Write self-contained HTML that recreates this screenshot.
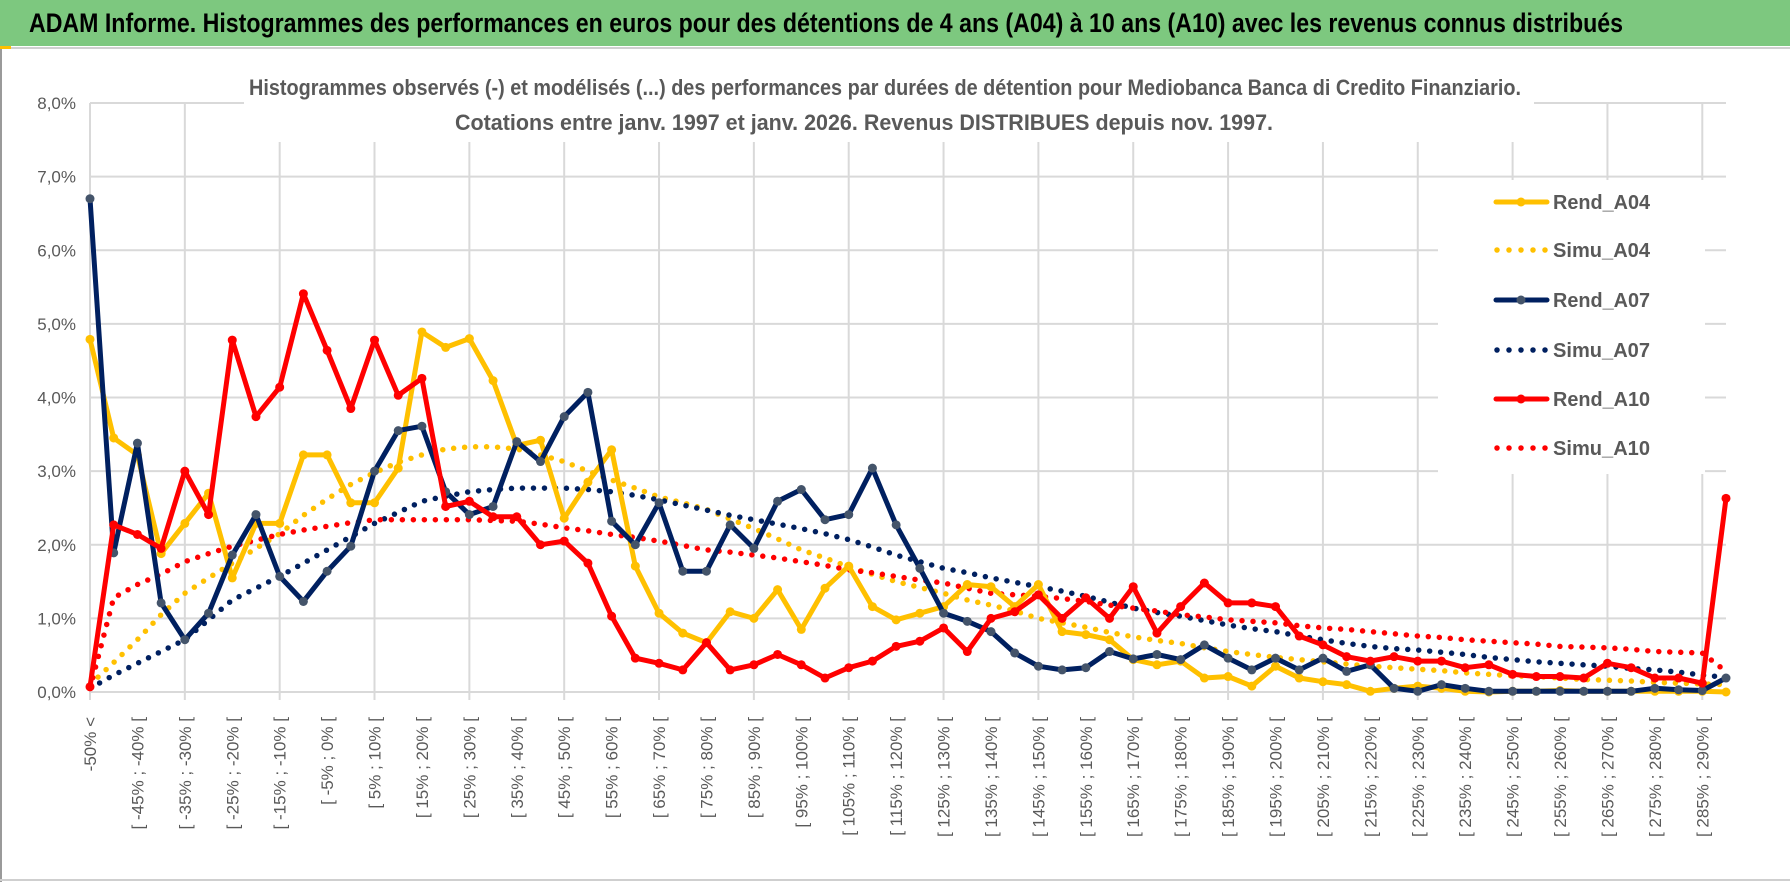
<!DOCTYPE html>
<html><head><meta charset="utf-8">
<style>
html,body{margin:0;padding:0;background:#fff;}
svg{display:block;}
text{font-family:"Liberation Sans",sans-serif;}
</style></head>
<body>
<svg id="chart" width="1790" height="888" viewBox="0 0 1790 888" xmlns="http://www.w3.org/2000/svg">
  <rect x="0" y="0" width="1790" height="888" fill="#fff"/>
  <rect x="0" y="0" width="1790" height="46" fill="#7dc87f"/>
  <text x="29" y="32" font-size="27" font-weight="bold" fill="#000" textLength="1594" lengthAdjust="spacingAndGlyphs">ADAM Informe. Histogrammes des performances en euros pour des détentions de 4 ans (A04) à 10 ans (A10) avec les revenus connus distribués</text>
  <rect x="0" y="47" width="1790" height="2" fill="#d0d0d0"/>
  <rect x="0" y="46" width="2" height="836" fill="#9a9a9a"/>
  <rect x="0" y="879" width="1790" height="2" fill="#cfcfcf"/>
  <rect x="0" y="46" width="11" height="3" fill="#ffc000"/>
  <g id="grid"></g>
  <g id="yaxis"></g>
  <g id="xaxis"></g>
  <rect x="244" y="60" width="1290" height="82" fill="#fff"/>
  <text x="249" y="95" font-size="22" font-weight="bold" fill="#595959" textLength="1272" lengthAdjust="spacingAndGlyphs">Histogrammes observés (-) et modélisés (...) des performances par durées de détention pour Mediobanca Banca di Credito Finanziario.</text>
  <text x="455" y="130" font-size="22" font-weight="bold" fill="#595959" textLength="818" lengthAdjust="spacingAndGlyphs">Cotations entre janv. 1997 et janv. 2026. Revenus DISTRIBUES depuis nov. 1997.</text>
  <g id="series"></g>
  <g id="legend"></g>
</svg>
<script>
const rendA04=[4.79,3.45,3.22,1.88,2.29,2.70,1.55,2.29,2.29,3.22,3.22,2.57,2.57,3.04,4.89,4.68,4.80,4.23,3.35,3.42,2.36,2.85,3.29,1.71,1.07,0.80,0.67,1.09,1.00,1.39,0.85,1.41,1.71,1.16,0.98,1.07,1.16,1.46,1.43,1.16,1.46,0.82,0.78,0.71,0.44,0.37,0.42,0.19,0.21,0.08,0.35,0.19,0.14,0.10,0.01,0.05,0.08,0.05,0.01,0.00,0.01,0.01,0.02,0.01,0.01,0.01,0.01,0.01,0.01,0.00];
const simuA04=[0.10,0.40,0.71,1.05,1.34,1.55,1.75,1.95,2.15,2.40,2.62,2.82,2.98,3.12,3.22,3.30,3.33,3.33,3.30,3.22,3.13,3.00,2.88,2.77,2.65,2.57,2.48,2.35,2.22,2.08,1.93,1.82,1.70,1.60,1.50,1.42,1.34,1.25,1.18,1.10,1.00,0.94,0.88,0.81,0.75,0.70,0.66,0.60,0.55,0.51,0.47,0.44,0.41,0.38,0.35,0.33,0.31,0.29,0.26,0.24,0.22,0.21,0.19,0.17,0.16,0.15,0.13,0.12,0.11,0.10];
const rendA07=[6.70,1.89,3.38,1.21,0.71,1.07,1.86,2.41,1.57,1.23,1.64,1.98,3.00,3.55,3.61,2.72,2.41,2.52,3.40,3.13,3.74,4.07,2.32,2.00,2.57,1.64,1.64,2.27,1.95,2.59,2.75,2.34,2.41,3.04,2.27,1.68,1.07,0.96,0.82,0.53,0.35,0.30,0.33,0.55,0.45,0.51,0.44,0.64,0.46,0.30,0.46,0.30,0.46,0.28,0.37,0.05,0.01,0.10,0.05,0.01,0.01,0.01,0.01,0.01,0.01,0.01,0.05,0.03,0.02,0.19];
const simuA07=[0.05,0.23,0.39,0.55,0.71,0.98,1.25,1.41,1.57,1.75,1.93,2.11,2.29,2.44,2.59,2.66,2.72,2.75,2.77,2.77,2.77,2.75,2.72,2.67,2.61,2.54,2.47,2.40,2.34,2.28,2.22,2.15,2.07,1.97,1.86,1.77,1.68,1.62,1.55,1.49,1.43,1.37,1.30,1.22,1.14,1.08,1.03,0.97,0.91,0.86,0.82,0.76,0.71,0.66,0.62,0.59,0.57,0.54,0.51,0.47,0.44,0.41,0.39,0.37,0.35,0.32,0.30,0.27,0.23,0.20];
const rendA10=[0.07,2.27,2.14,1.95,3.00,2.41,4.78,3.74,4.14,5.41,4.64,3.85,4.78,4.03,4.26,2.52,2.59,2.38,2.38,2.00,2.05,1.75,1.03,0.46,0.39,0.30,0.67,0.30,0.37,0.51,0.37,0.19,0.33,0.42,0.62,0.69,0.87,0.55,1.00,1.09,1.32,1.00,1.28,1.00,1.43,0.80,1.16,1.48,1.21,1.21,1.16,0.76,0.64,0.48,0.42,0.48,0.42,0.42,0.33,0.37,0.24,0.21,0.21,0.19,0.39,0.33,0.19,0.19,0.12,2.63];
const simuA10=[0.05,1.28,1.46,1.60,1.77,1.88,1.98,2.06,2.14,2.20,2.25,2.30,2.34,2.34,2.34,2.34,2.34,2.33,2.32,2.28,2.23,2.19,2.14,2.10,2.05,1.99,1.93,1.90,1.86,1.82,1.77,1.72,1.66,1.62,1.57,1.52,1.48,1.41,1.34,1.32,1.30,1.27,1.23,1.18,1.14,1.10,1.05,1.02,0.98,0.96,0.94,0.90,0.87,0.85,0.82,0.79,0.76,0.74,0.71,0.69,0.67,0.65,0.62,0.61,0.60,0.58,0.55,0.54,0.53,0.28];
const yTicks=[0,1,2,3,4,5,6,7,8];
const yTickLabels=["0,0%","1,0%","2,0%","3,0%","4,0%","5,0%","6,0%","7,0%","8,0%"];
const binStarts=[];
for(let s=-50;s<=285;s+=5) binStarts.push(s);
const categories=["-50% <"].concat(binStarts.map(s=>"[ "+s+"% ; "+(s+5)+"% ["),["> 290%"]);

const NS="http://www.w3.org/2000/svg";
const X0=90,X1=1726,Y0=692,Y8=103;
const n=categories.length;
function xs(i){return X0+(X1-X0)*i/(n-1);}
function ys(v){return Y0-(Y0-Y8)*v/8;}
function mk(tag,attrs,parent){const e=document.createElementNS(NS,tag);for(const k in attrs)e.setAttribute(k,attrs[k]);parent.appendChild(e);return e;}

const grid=document.getElementById('grid');
yTicks.forEach((t,k)=>{
  const l=mk('line',{x1:X0,x2:X1,y1:ys(t),y2:ys(t),stroke:'#d9d9d9','stroke-width':2},grid);
  
  
});
for(let i=0;i<n;i+=4){
  const l=mk('line',{x1:xs(i),x2:xs(i),y1:Y8,y2:Y0+8,stroke:'#d9d9d9','stroke-width':2},grid);
  
  
}
const yax=document.getElementById('yaxis');
yTicks.forEach((t,k)=>{
  const tx=mk('text',{x:76,y:ys(t)+6,'text-anchor':'end','font-size':17,fill:'#595959'},yax);
  tx.textContent=yTickLabels[k];
  
  
});
const xax=document.getElementById('xaxis');
for(let i=0;i<n-1;i+=2){
  const x=xs(i)+6,y=717;
  const tx=mk('text',{x:x,y:y,transform:`rotate(-90 ${x} ${y})`,'text-anchor':'end','font-size':17,fill:'#595959','font-family':'"DejaVu Sans",sans-serif'},xax);
  tx.textContent=categories[i];
  
  
}
const ser=document.getElementById('series');
function pts(arr){return arr.map((v,i)=>xs(i).toFixed(1)+','+ys(v).toFixed(1)).join(' ');}
function dotted(arr,color,name){
  const p=mk('polyline',{points:pts(arr),fill:'none',stroke:color,'stroke-width':5.5,'stroke-linecap':'round','stroke-dasharray':'0 11'},ser);
  
  
}
function solid(arr,color,mcolor,name){
  const p=mk('polyline',{points:pts(arr),fill:'none',stroke:color,'stroke-width':5,'stroke-linejoin':'round'},ser);
  
  
  arr.forEach((v,i)=>{
    const c=mk('circle',{cx:xs(i),cy:ys(v),r:4.5,fill:mcolor},ser);
    
    
  });
}
dotted(simuA04,'#ffc000','simu-a04-line');
dotted(simuA07,'#002060','simu-a07-line');
dotted(simuA10,'#ff0000','simu-a10-line');
solid(rendA04,'#ffc000','#ffc000','rend-a04-line');
solid(rendA07,'#002060','#44546a','rend-a07-line');
solid(rendA10,'#ff0000','#ff0000','rend-a10-line');

const lg=document.getElementById('legend');
const lb=mk('rect',{x:1438,y:180,width:267,height:294,fill:'#fff'},lg);


const legNames=["Rend_A04","Simu_A04","Rend_A07","Simu_A07","Rend_A10","Simu_A10"];
const legColors=["#ffc000","#ffc000","#002060","#002060","#ff0000","#ff0000"];
const legMarks=["#ffc000",null,"#44546a",null,"#ff0000",null];
const legY=[202,250,300,350,399,448];
legNames.forEach((nm,k)=>{
  const g=mk('g',{},lg);
  
  
  if(legMarks[k]){
    mk('line',{x1:1496,x2:1547,y1:legY[k],y2:legY[k],stroke:legColors[k],'stroke-width':5,'stroke-linecap':'round'},g);
    mk('circle',{cx:1521,cy:legY[k],r:4.5,fill:legMarks[k]},g);
  } else {
    mk('line',{x1:1497,x2:1546,y1:legY[k],y2:legY[k],stroke:legColors[k],'stroke-width':5.5,'stroke-linecap':'round','stroke-dasharray':'0 12'},g);
  }
  const t=mk('text',{x:1553,y:legY[k]+7,'font-size':20,'font-weight':'bold',fill:'#595959',textLength:97,lengthAdjust:'spacingAndGlyphs'},g);
  t.textContent=nm;
});
</script>
</body></html>
